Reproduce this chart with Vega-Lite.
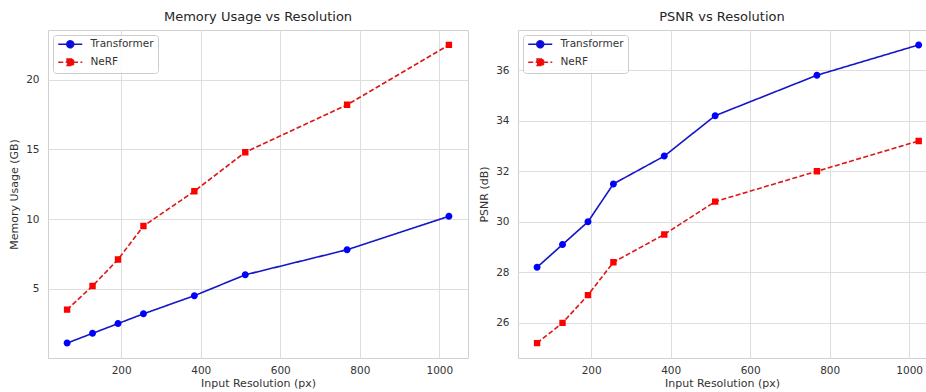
{
  "$schema": "https://vega.github.io/schema/vega-lite/v6.json",
  "padding": {"left": 8, "top": 10, "right": 0, "bottom": 0},
  "background": "white",
  "datasets": {
    "memory": [
      {"res": 64, "series": "Transformer", "value": 1.1},
      {"res": 128, "series": "Transformer", "value": 1.8},
      {"res": 192, "series": "Transformer", "value": 2.5},
      {"res": 256, "series": "Transformer", "value": 3.2},
      {"res": 384, "series": "Transformer", "value": 4.5},
      {"res": 512, "series": "Transformer", "value": 6.0},
      {"res": 768, "series": "Transformer", "value": 7.8},
      {"res": 1024, "series": "Transformer", "value": 10.2},
      {"res": 64, "series": "NeRF", "value": 3.5},
      {"res": 128, "series": "NeRF", "value": 5.2},
      {"res": 192, "series": "NeRF", "value": 7.1},
      {"res": 256, "series": "NeRF", "value": 9.5},
      {"res": 384, "series": "NeRF", "value": 12.0},
      {"res": 512, "series": "NeRF", "value": 14.8},
      {"res": 768, "series": "NeRF", "value": 18.2},
      {"res": 1024, "series": "NeRF", "value": 22.5}
    ],
    "psnr": [
      {"res": 64, "series": "Transformer", "value": 28.2},
      {"res": 128, "series": "Transformer", "value": 29.1},
      {"res": 192, "series": "Transformer", "value": 30.0},
      {"res": 256, "series": "Transformer", "value": 31.5},
      {"res": 384, "series": "Transformer", "value": 32.6},
      {"res": 512, "series": "Transformer", "value": 34.2},
      {"res": 768, "series": "Transformer", "value": 35.8},
      {"res": 1024, "series": "Transformer", "value": 37.0},
      {"res": 64, "series": "NeRF", "value": 25.2},
      {"res": 128, "series": "NeRF", "value": 26.0},
      {"res": 192, "series": "NeRF", "value": 27.1},
      {"res": 256, "series": "NeRF", "value": 28.4},
      {"res": 384, "series": "NeRF", "value": 29.5},
      {"res": 512, "series": "NeRF", "value": 30.8},
      {"res": 768, "series": "NeRF", "value": 32.0},
      {"res": 1024, "series": "NeRF", "value": 33.2}
    ]
  },
  "spacing": 9,
  "hconcat": [
    {
      "title": "Memory Usage vs Resolution",
      "width": 420,
      "height": 328,
      "data": {"name": "memory"},
      "encoding": {
        "x": {"field": "res", "type": "quantitative", "title": "Input Resolution (px)",
              "scale": {"domain": [16, 1072], "nice": false, "zero": false},
              "axis": {"values": [200, 400, 600, 800, 1000], "format": "d"}},
        "y": {"field": "value", "type": "quantitative", "title": "Memory Usage (GB)",
              "scale": {"domain": [0.03, 23.57], "nice": false, "zero": false},
              "axis": {"values": [5, 10, 15, 20]}}
      },
      "layer": [
        {
          "mark": {"type": "line", "strokeWidth": 1.6},
          "encoding": {
            "color": {"field": "series", "type": "nominal",
                      "scale": {"domain": ["Transformer", "NeRF"], "range": ["#1515c8", "#e01515"]},
                      "legend": {"orient": "top-left", "offset": 5, "title": null}},
            "strokeDash": {"field": "series", "type": "nominal", "legend": null,
                           "scale": {"domain": ["Transformer", "NeRF"], "range": [[1, 0], [5, 2.4]]}}
          }
        },
        {
          "mark": {"type": "point", "filled": true, "opacity": 1, "size": 64},
          "encoding": {
            "fill": {"field": "series", "type": "nominal", "legend": null,
                      "scale": {"domain": ["Transformer", "NeRF"], "range": ["#0000ff", "#ff0000"]}},
            "shape": {"field": "series", "type": "nominal", "legend": null,
                      "scale": {"domain": ["Transformer", "NeRF"], "range": ["M-3,0H3M0.875,0A0.875,0.875 0 1,1 -0.875,0A0.875,0.875 0 1,1 0.875,0Z", "M-3,0H3M-0.8,-0.8H0.8V0.8H-0.8Z"]}}
          }
        }
      ]
    },
    {
      "title": "PSNR vs Resolution",
      "width": 408,
      "height": 328,
      "data": {"name": "psnr"},
      "encoding": {
        "x": {"field": "res", "type": "quantitative", "title": "Input Resolution (px)",
              "scale": {"domain": [16, 1042.4], "nice": false, "zero": false},
              "axis": {"values": [200, 400, 600, 800, 1000], "format": "d"}},
        "y": {"field": "value", "type": "quantitative", "title": "PSNR (dB)",
              "scale": {"domain": [24.61, 37.59], "nice": false, "zero": false},
              "axis": {"values": [26, 28, 30, 32, 34, 36]}}
      },
      "layer": [
        {
          "mark": {"type": "line", "strokeWidth": 1.6},
          "encoding": {
            "color": {"field": "series", "type": "nominal",
                      "scale": {"domain": ["Transformer", "NeRF"], "range": ["#1515c8", "#e01515"]},
                      "legend": {"orient": "top-left", "offset": 5, "title": null}},
            "strokeDash": {"field": "series", "type": "nominal", "legend": null,
                           "scale": {"domain": ["Transformer", "NeRF"], "range": [[1, 0], [5, 2.4]]}}
          }
        },
        {
          "mark": {"type": "point", "filled": true, "opacity": 1, "size": 64},
          "encoding": {
            "fill": {"field": "series", "type": "nominal", "legend": null,
                      "scale": {"domain": ["Transformer", "NeRF"], "range": ["#0000ff", "#ff0000"]}},
            "shape": {"field": "series", "type": "nominal", "legend": null,
                      "scale": {"domain": ["Transformer", "NeRF"], "range": ["M-3,0H3M0.875,0A0.875,0.875 0 1,1 -0.875,0A0.875,0.875 0 1,1 0.875,0Z", "M-3,0H3M-0.8,-0.8H0.8V0.8H-0.8Z"]}}
          }
        }
      ]
    }
  ],
  "resolve": {
    "scale": {"color": "independent", "fill": "independent", "shape": "independent", "strokeDash": "independent"},
    "legend": {"color": "independent"}
  },
  "config": {
    "font": "DejaVu Sans",
    "view": {"stroke": "#d0d0d0", "strokeWidth": 1},
    "axis": {
      "grid": true, "gridColor": "#dedede", "gridWidth": 1,
      "domain": false, "ticks": false,
      "labelFont": "DejaVu Sans", "titleFont": "DejaVu Sans",
      "labelFontSize": 10.5, "titleFontSize": 11,
      "labelColor": "#333333", "titleColor": "#333333", "titleFontWeight": "normal"
    },
    "axisX": {"labelPadding": 7, "titlePadding": 2},
    "axisY": {"labelPadding": 9, "titlePadding": 6},
    "title": {"fontSize": 13, "fontWeight": "normal", "font": "DejaVu Sans", "color": "#262626", "offset": 6},
    "legend": {
      "symbolSize": 64, "symbolOffset": 8, "labelOffset": 15, "symbolStrokeWidth": 1.5,
      "fillColor": "rgba(255,255,255,0.85)", "strokeColor": "#cccccc", "cornerRadius": 3,
      "padding": 4, "rowPadding": 5,
      "labelFont": "DejaVu Sans", "labelFontSize": 10.5, "labelColor": "#333333"
    }
  }
}
